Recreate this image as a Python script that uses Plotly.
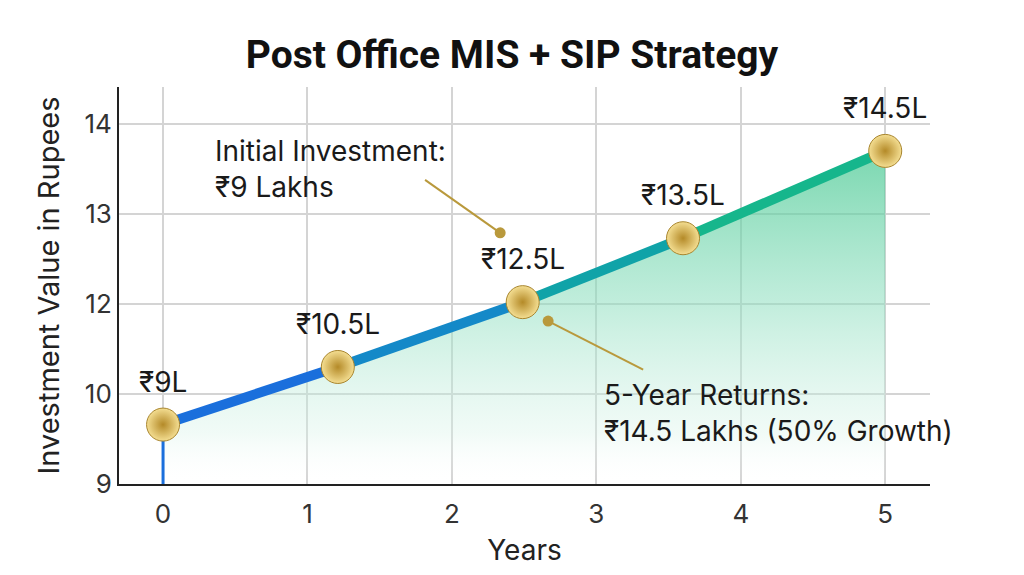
import plotly.graph_objects as go

# ---- data ----
years = [0, 1.21, 2.49, 3.6, 5]                 # x positions of the points
values = [9.66, 10.30, 11.02, 11.73, 12.70]     # y positions on the (evenly spaced) value grid
point_labels = ["₹9L", "₹10.5L", "₹12.5L", "₹13.5L", "₹14.5L"]
x_ticks = [0, 1, 2, 3, 4, 5]
y_tick_pos = [9, 10, 11, 12, 13]
y_tick_text = ["9", "10", "12", "13", "14"]
seg_colors = ["#1a6fdc", "#1489c8", "#10a3a8", "#16b68c"]

title = "Post Office MIS + SIP Strategy"
note1 = "Initial Investment:<br>₹9 Lakhs"
note2 = "5-Year Returns:<br>₹14.5 Lakhs (50% Growth)"

FONT = "Inter"
fig = go.Figure()

# gradient fill under the line
base = [9] * len(years)
fig.add_trace(go.Scatter(x=years, y=base, mode="lines", line=dict(width=0),
                         hoverinfo="skip", showlegend=False))
fig.add_trace(go.Scatter(
    x=years, y=values, mode="lines", line=dict(width=0), fill="tonexty",
    fillgradient=dict(type="vertical",
                      colorscale=[[0, "rgba(255,255,255,0)"],
                                  [0.15, "rgba(215,243,232,0.35)"],
                                  [0.55, "rgba(140,222,190,0.55)"],
                                  [1, "rgba(70,200,145,0.72)"]]),
    hoverinfo="skip", showlegend=False))

# vertical stem at year 0
fig.add_trace(go.Scatter(x=[years[0], years[0]], y=[9, values[0]], mode="lines",
                         line=dict(color="#1a6fdc", width=3), showlegend=False))

# line segments with a blue->green progression
for i in range(len(years) - 1):
    fig.add_trace(go.Scatter(x=years[i:i + 2], y=values[i:i + 2], mode="lines",
                             line=dict(color=seg_colors[i], width=10),
                             showlegend=False))

# gold markers
fig.add_trace(go.Scatter(
    x=years, y=values, mode="markers",
    marker=dict(size=33, color="#f4de92",
                gradient=dict(type="radial", color="#b48a28"),
                line=dict(color="#a8852e", width=1)),
    showlegend=False))

# point labels
for x, y, t in zip(years, values, point_labels):
    fig.add_annotation(x=x, y=y, text=t, showarrow=False, yshift=43,
                       font=dict(family=FONT, size=28, color="#1a1a1a"))

# callouts
fig.add_annotation(x=0.346, y=12.5, xref="x", yref="y", text=note1, showarrow=False,
                   xanchor="left", yanchor="middle", align="left",
                   font=dict(family=FONT, size=28, color="#1a1a1a"))
fig.add_annotation(x=3.04, y=9.79, xref="x", yref="y", text=note2, showarrow=False,
                   xanchor="left", yanchor="middle", align="left",
                   font=dict(family=FONT, size=28, color="#1a1a1a"))

lead = "#b9993c"
fig.add_shape(type="line", x0=1.814, y0=12.378, x1=2.334, y1=11.79,
              line=dict(color=lead, width=2))
fig.add_shape(type="line", x0=2.666, y0=10.81, x1=3.324, y1=10.27,
              line=dict(color=lead, width=2))
fig.add_trace(go.Scatter(x=[2.334, 2.666], y=[11.79, 10.81], mode="markers",
                         marker=dict(size=11, color=lead), showlegend=False))

fig.update_layout(
    width=1024, height=575,
    margin=dict(l=119, r=94, t=87, b=91),
    paper_bgcolor="white", plot_bgcolor="white",
    title=dict(text="<b>" + title + "</b>", x=0.5, xanchor="center", y=0.905, yanchor="middle",
               font=dict(family="Roboto", size=39, color="#111")),
    xaxis=dict(range=[-0.305, 5.31], tickvals=x_ticks, showgrid=True,
               gridcolor="#d4d4d4", gridwidth=2, zeroline=False,
               showline=True, linecolor="#222", linewidth=2,
               tickfont=dict(family=FONT, size=26, color="#333"), ticks="",
               ticklabelstandoff=6,
               title=dict(text="Years", font=dict(family=FONT, size=28, color="#222"),
                          standoff=12)),
    yaxis=dict(range=[9, 13.41], tickvals=y_tick_pos, ticktext=y_tick_text, showgrid=True,
               gridcolor="#d4d4d4", gridwidth=2, zeroline=False,
               showline=True, linecolor="#222", linewidth=2,
               tickfont=dict(family=FONT, size=26, color="#333"), ticks="",
               title=dict(text="Investment Value in Rupees",
                          font=dict(family=FONT, size=29, color="#222"), standoff=16)),
)

fig.write_html("out.html")
